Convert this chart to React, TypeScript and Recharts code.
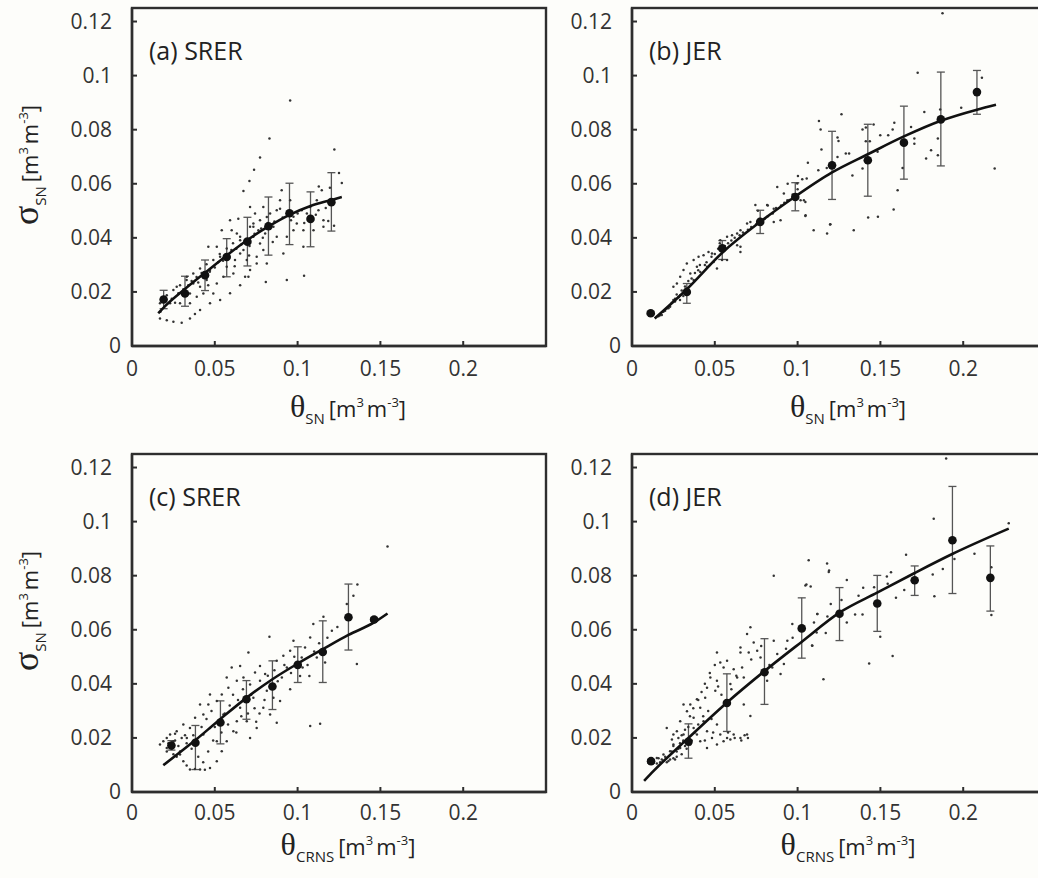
import React from 'react';
import { ScatterChart, Scatter, XAxis, YAxis, ErrorBar } from 'recharts';

// σ_SN vs θ (SN / CRNS) for SRER and JER — 2x2 MATLAB-style panels.

const FRAME = '#2e2e2e';
const INK = '#333';
const SANS = '"Open Sans", "Noto Sans", sans-serif';
const SERIF = '"Liberation Serif", "DejaVu Serif", serif';

const xTicks = [0, 0.05, 0.1, 0.15, 0.2];
const yTicks = [0, 0.02, 0.04, 0.06, 0.08, 0.1, 0.12];

// ---- (a) SRER, θ_SN ----
const aDots: [number, number][] = [
  [0.0592, 0.0465], [0.0602, 0.0428], [0.0633, 0.0416], [0.0653, 0.0391], [0.0542, 0.0428], [0.0512, 0.0367],
  [0.0461, 0.0367], [0.0532, 0.033], [0.0572, 0.0293], [0.0471, 0.0281], [0.0451, 0.0244], [0.0512, 0.0231],
  [0.0411, 0.0219], [0.037, 0.0231], [0.035, 0.0194], [0.0391, 0.0182], [0.0431, 0.0194], [0.0491, 0.0194],
  [0.0552, 0.0256], [0.0612, 0.0268], [0.0622, 0.0318], [0.0653, 0.0342], [0.0713, 0.0441], [0.0733, 0.0453],
  [0.0743, 0.049], [0.0713, 0.0514], [0.0763, 0.0428], [0.0773, 0.0379], [0.0793, 0.0355], [0.0753, 0.033],
  [0.0693, 0.0318], [0.0713, 0.0281], [0.0683, 0.0256], [0.0773, 0.0465], [0.0834, 0.049], [0.0854, 0.0441],
  [0.0804, 0.0416], [0.0874, 0.0502], [0.0894, 0.0539], [0.0904, 0.0576], [0.0955, 0.0539], [0.0975, 0.0478],
  [0.0995, 0.0453], [0.0975, 0.0428], [0.0935, 0.0404], [0.0874, 0.0404], [0.1025, 0.0502], [0.1035, 0.0428],
  [0.1056, 0.049], [0.1076, 0.0514], [0.1116, 0.0539], [0.1156, 0.0465], [0.1156, 0.0441], [0.1146, 0.0576],
  [0.1126, 0.0502], [0.1096, 0.0428], [0.1035, 0.0367], [0.0914, 0.0342], [0.0814, 0.0305], [0.0753, 0.0305],
  [0.0793, 0.0514], [0.0673, 0.0355], [0.0733, 0.0404], [0.0642, 0.0471],
  [0.083, 0.0767], [0.0773, 0.0697], [0.0737, 0.0652], [0.0709, 0.061], [0.0673, 0.0573], [0.1222, 0.0727],
  [0.125, 0.064], [0.1267, 0.0603], [0.1039, 0.026], [0.0935, 0.0244], [0.0808, 0.0237], [0.0955, 0.0908],
  [0.1185, 0.0462], [0.122, 0.0445], [0.1195, 0.0585], [0.1128, 0.059],
  [0.0169, 0.0158], [0.0172, 0.0127], [0.021, 0.0188], [0.027, 0.0219], [0.0331, 0.0256], [0.023, 0.0158],
  [0.029, 0.0158], [0.035, 0.0158],
  [0.0169, 0.0102], [0.021, 0.0095], [0.025, 0.009], [0.03, 0.0086], [0.035, 0.0102], [0.038, 0.0118],
  [0.0411, 0.0133], [0.0471, 0.0158], [0.0532, 0.017], [0.0592, 0.0195], [0.0653, 0.0225], [0.0703, 0.0256],
  [0.018, 0.0164], [0.025, 0.0207], [0.029, 0.0225], [0.033, 0.0244], [0.037, 0.0268], [0.0411, 0.0287],
  [0.045, 0.0302], [0.0491, 0.0318], [0.053, 0.034], [0.0572, 0.0361], [0.061, 0.038], [0.0653, 0.0404],
  [0.0733, 0.0441], [0.0814, 0.0477], [0.0894, 0.0508],
  [0.028, 0.0195], [0.031, 0.021], [0.034, 0.0225], [0.036, 0.024], [0.039, 0.0255], [0.042, 0.027],
  [0.044, 0.0255], [0.047, 0.0275], [0.05, 0.029], [0.052, 0.031], [0.055, 0.0315], [0.058, 0.034],
  [0.06, 0.0355], [0.063, 0.036], [0.066, 0.0375], [0.068, 0.039], [0.071, 0.037], [0.074, 0.0415],
  [0.078, 0.0435], [0.082, 0.0455], [0.086, 0.046], [0.091, 0.0475], [0.096, 0.0465], [0.1, 0.049],
  [0.104, 0.0455], [0.111, 0.0485], [0.117, 0.051], [0.024, 0.0175], [0.026, 0.016], [0.04, 0.0235],
  [0.046, 0.0225], [0.062, 0.0295], [0.0707, 0.0335], [0.085, 0.0385], [0.079, 0.04],
];
const aFitX = [0.0159, 0.0191, 0.032, 0.0441, 0.0572, 0.0697, 0.0824, 0.0951, 0.1078, 0.1204, 0.1267];
const aFitY = [0.0121, 0.0142, 0.0211, 0.0271, 0.0335, 0.0392, 0.0442, 0.0485, 0.0518, 0.054, 0.0551];
const aBinX = [0.0191, 0.032, 0.0441, 0.0572, 0.0697, 0.0824, 0.0951, 0.1078, 0.1204];
const aBinY = [0.0172, 0.0194, 0.0262, 0.0329, 0.0386, 0.0443, 0.0491, 0.047, 0.0532];
const aBinLo = [0.0138, 0.0147, 0.0205, 0.0256, 0.0296, 0.0336, 0.0375, 0.0367, 0.0425];
const aBinHi = [0.0206, 0.0258, 0.0318, 0.0397, 0.0476, 0.0551, 0.0602, 0.057, 0.0641];

// ---- (b) JER, θ_SN ----
const bDots: [number, number][] = [
  [0.0331, 0.0305], [0.0372, 0.0318], [0.0402, 0.033], [0.0432, 0.0336], [0.0462, 0.0348], [0.0483, 0.0342],
  [0.0392, 0.0293], [0.0352, 0.0268], [0.0291, 0.0256], [0.0311, 0.0281], [0.025, 0.0219], [0.0271, 0.0231],
  [0.0533, 0.0391], [0.0574, 0.0404], [0.0604, 0.041], [0.0635, 0.0416], [0.0655, 0.0428], [0.0695, 0.0453],
  [0.0715, 0.0459], [0.0745, 0.0521], [0.0816, 0.0521], [0.0856, 0.0508], [0.0877, 0.0588], [0.0917, 0.0564],
  [0.0938, 0.0539], [0.0998, 0.0601], [0.1038, 0.0539], [0.1048, 0.0484], [0.0897, 0.0465], [0.0856, 0.0459],
  [0.0655, 0.0367], [0.0655, 0.0348], [0.0635, 0.0373], [0.0513, 0.0287], [0.0544, 0.0318], [0.0574, 0.0318],
  [0.0493, 0.0311], [0.0453, 0.0293], [0.0412, 0.0274], [0.0372, 0.0244], [0.0331, 0.0207], [0.0291, 0.0188],
  [0.025, 0.017], [0.021, 0.0139], [0.019, 0.0127], [0.017, 0.0114],
  [0.016, 0.011], [0.018, 0.0115], [0.02, 0.013], [0.022, 0.014], [0.024, 0.016], [0.026, 0.0175],
  [0.028, 0.018], [0.03, 0.0205], [0.032, 0.022], [0.036, 0.025], [0.04, 0.028], [0.044, 0.03],
  [0.048, 0.033], [0.052, 0.036], [0.056, 0.037], [0.06, 0.039], [0.065, 0.041], [0.07, 0.043],
  [0.075, 0.045], [0.08, 0.047], [0.085, 0.049], [0.09, 0.052], [0.095, 0.054], [0.026, 0.0165],
  [0.027, 0.019], [0.029, 0.017], [0.023, 0.0145], [0.031, 0.0185],
  [0.034, 0.024], [0.038, 0.027], [0.041, 0.03], [0.045, 0.031], [0.047, 0.03], [0.05, 0.034],
  [0.053, 0.038], [0.058, 0.038], [0.062, 0.04], [0.067, 0.042], [0.072, 0.044], [0.077, 0.047],
  [0.082, 0.048], [0.087, 0.051], [0.092, 0.053], [0.097, 0.056], [0.1, 0.058], [0.094, 0.06],
  [0.082, 0.052], [0.076, 0.05],
  [0.1725, 0.1011], [0.2113, 0.0992], [0.1265, 0.0857], [0.1129, 0.0832], [0.1139, 0.0801], [0.1392, 0.0801],
  [0.1459, 0.0819], [0.1574, 0.0801], [0.1584, 0.0826], [0.1499, 0.0779], [0.1547, 0.0779], [0.1241, 0.0771],
  [0.1247, 0.0758], [0.1412, 0.0757], [0.1436, 0.0757], [0.1483, 0.0718], [0.1291, 0.0712], [0.1311, 0.0712],
  [0.1144, 0.0727], [0.1062, 0.0678], [0.1002, 0.0629], [0.1055, 0.0619], [0.1028, 0.0617], [0.1241, 0.0699],
  [0.1392, 0.0656], [0.1331, 0.0631], [0.1176, 0.0658], [0.1125, 0.065], [0.1685, 0.081], [0.1705, 0.0767],
  [0.1705, 0.0748], [0.1765, 0.0865], [0.1806, 0.0724], [0.1847, 0.0767], [0.1847, 0.0705], [0.1776, 0.0693],
  [0.1988, 0.0881], [0.219, 0.0656], [0.1604, 0.0576], [0.158, 0.0505], [0.1426, 0.0475], [0.1196, 0.0449],
  [0.1047, 0.0481], [0.1047, 0.0533], [0.1018, 0.0539], [0.1634, 0.0658], [0.1861, 0.0875], [0.1412, 0.0808],
  [0.1875, 0.1231], [0.1097, 0.0428], [0.1178, 0.0416], [0.1198, 0.045], [0.1339, 0.0428], [0.1485, 0.0478],
];
const bFitX = [0.0137, 0.0331, 0.0545, 0.0774, 0.0986, 0.1208, 0.143, 0.1642, 0.1865, 0.2083, 0.2198];
const bFitY = [0.0102, 0.021, 0.0345, 0.0459, 0.0553, 0.0642, 0.0711, 0.0775, 0.0833, 0.0874, 0.0892];
const bBinX = [0.0113, 0.0331, 0.0545, 0.0774, 0.0986, 0.1208, 0.1424, 0.1642, 0.1865, 0.2083];
const bBinY = [0.0121, 0.02, 0.0361, 0.0459, 0.0551, 0.0668, 0.0687, 0.0752, 0.0838, 0.0939];
const bBinLo = [0.0116, 0.0158, 0.032, 0.0416, 0.05, 0.0542, 0.0554, 0.0617, 0.0666, 0.0857];
const bBinHi = [0.0126, 0.0231, 0.039, 0.0502, 0.0604, 0.0794, 0.082, 0.0887, 0.1013, 0.1019];

// ---- (c) SRER, θ_CRNS ----
const cDots: [number, number][] = [
  [0.1543, 0.0908], [0.1361, 0.0767], [0.1337, 0.0726], [0.1297, 0.0695], [0.1358, 0.0473], [0.1156, 0.0648],
  [0.1207, 0.0596], [0.1095, 0.0621], [0.1076, 0.0571], [0.1045, 0.0534], [0.1116, 0.0497], [0.1166, 0.0479],
  [0.1025, 0.0497], [0.0975, 0.0559], [0.0955, 0.0522], [0.0914, 0.0504], [0.0935, 0.046], [0.0905, 0.0423],
  [0.1015, 0.0429], [0.1071, 0.0429], [0.083, 0.0574], [0.0874, 0.0485], [0.0804, 0.0436], [0.0773, 0.0411],
  [0.0814, 0.0374], [0.0854, 0.0349], [0.0894, 0.0337], [0.0793, 0.0312], [0.0834, 0.0287], [0.0874, 0.0256],
  [0.1076, 0.0244], [0.1136, 0.0252], [0.0753, 0.0237], [0.0713, 0.02], [0.0693, 0.0262], [0.0733, 0.0349],
  [0.0713, 0.0398], [0.0673, 0.0423], [0.0633, 0.0411], [0.0703, 0.0516], [0.0653, 0.0466], [0.0602, 0.046],
  [0.0572, 0.0423], [0.0582, 0.0386], [0.0542, 0.0361], [0.0512, 0.0337], [0.0471, 0.0361], [0.0461, 0.0324],
  [0.0411, 0.0324], [0.0431, 0.0287], [0.0381, 0.0275], [0.035, 0.0237], [0.031, 0.025], [0.027, 0.0225],
  [0.023, 0.0213], [0.0189, 0.0188], [0.021, 0.0163], [0.029, 0.0139], [0.031, 0.0114], [0.035, 0.0083],
  [0.0411, 0.0083], [0.0471, 0.0089], [0.0512, 0.0114], [0.0542, 0.0151], [0.0572, 0.0188], [0.0612, 0.0225],
  [0.0633, 0.0262], [0.0653, 0.0312], [0.0431, 0.0213], [0.0471, 0.0237], [0.0512, 0.0188], [0.0391, 0.0188],
  [0.025, 0.0188], [0.021, 0.02], [0.0169, 0.0176], [0.0331, 0.02], [0.0552, 0.0287], [0.0773, 0.0466],
  [0.0743, 0.0442], [0.0955, 0.038], [0.0995, 0.046], [0.038, 0.0085], [0.044, 0.0082], [0.033, 0.0098],
  [0.022, 0.018], [0.024, 0.016], [0.026, 0.019], [0.028, 0.017], [0.03, 0.02], [0.025, 0.014],
  [0.027, 0.013], [0.032, 0.021], [0.029, 0.015], [0.023, 0.017], [0.021, 0.015], [0.026, 0.0215],
  [0.045, 0.027], [0.048, 0.03], [0.05, 0.024], [0.056, 0.029], [0.059, 0.032], [0.061, 0.036],
  [0.064, 0.034], [0.067, 0.038], [0.072, 0.036], [0.074, 0.031], [0.077, 0.029], [0.08, 0.034],
  [0.082, 0.043], [0.086, 0.045], [0.088, 0.041], [0.092, 0.047], [0.096, 0.044], [0.098, 0.05],
  [0.103, 0.046], [0.106, 0.047], [0.11, 0.052], [0.113, 0.055], [0.118, 0.057], [0.124, 0.061],
  [0.04, 0.013], [0.043, 0.011], [0.046, 0.015], [0.049, 0.019], [0.036, 0.016], [0.033, 0.018],
  [0.037, 0.021], [0.042, 0.024], [0.054, 0.022], [0.058, 0.025], [0.066, 0.028], [0.07, 0.029],
  [0.075, 0.026], [0.063, 0.022],
];
const cFitX = [0.0189, 0.0381, 0.0536, 0.0693, 0.0848, 0.1001, 0.1152, 0.1307, 0.1462, 0.1543];
const cFitY = [0.0099, 0.0191, 0.0271, 0.0349, 0.0417, 0.0475, 0.0528, 0.0581, 0.0627, 0.066];
const cBinX = [0.0238, 0.0383, 0.0534, 0.0691, 0.0848, 0.1001, 0.1152, 0.1307, 0.1462];
const cBinY = [0.0172, 0.0182, 0.0257, 0.0343, 0.039, 0.047, 0.0518, 0.0646, 0.0638];
const cBinLo = [0.0155, 0.0083, 0.0178, 0.0269, 0.0305, 0.0405, 0.0405, 0.0525, 0.0632];
const cBinHi = [0.019, 0.0246, 0.0337, 0.0412, 0.0485, 0.0537, 0.0633, 0.0769, 0.0644];

// ---- (d) JER, θ_CRNS ----
const dDots: [number, number][] = [
  [0.0856, 0.08], [0.1053, 0.0767], [0.1079, 0.076], [0.1119, 0.0658], [0.1099, 0.0627], [0.0968, 0.0621],
  [0.0938, 0.0559], [0.0856, 0.0559], [0.0695, 0.0584], [0.0735, 0.0553], [0.0655, 0.0516], [0.0705, 0.0516],
  [0.0513, 0.0516], [0.0533, 0.0479], [0.0553, 0.046], [0.0614, 0.0454], [0.0665, 0.046], [0.0675, 0.0423],
  [0.0635, 0.0423], [0.0594, 0.0399], [0.0513, 0.0411], [0.0473, 0.0423], [0.0453, 0.0386], [0.0503, 0.0374],
  [0.0442, 0.0349], [0.0392, 0.0343], [0.0352, 0.0324], [0.0311, 0.0324], [0.0332, 0.0299], [0.0412, 0.0312],
  [0.0372, 0.0275], [0.0432, 0.0262], [0.0291, 0.0262], [0.0271, 0.0225], [0.025, 0.0213], [0.0311, 0.0213],
  [0.0372, 0.0237], [0.0453, 0.0225], [0.0483, 0.02], [0.0533, 0.0213], [0.0574, 0.02], [0.0614, 0.0213],
  [0.0655, 0.02], [0.0695, 0.0213], [0.0513, 0.025], [0.0715, 0.0281], [0.0675, 0.0324], [0.0412, 0.0188],
  [0.0352, 0.0176], [0.0291, 0.0163], [0.023, 0.0151], [0.019, 0.0139], [0.015, 0.0126], [0.025, 0.0176],
  [0.0311, 0.0188], [0.0392, 0.0213], [0.0453, 0.0163], [0.0513, 0.0176], [0.0553, 0.0188], [0.0594, 0.0194],
  [0.0241, 0.0194], [0.021, 0.0237], [0.0756, 0.0522], [0.0776, 0.0497], [0.0877, 0.051], [0.0917, 0.0473],
  [0.0897, 0.0436], [0.0816, 0.0411], [0.0847, 0.046], [0.0715, 0.0609], [0.0655, 0.0534], [0.0574, 0.0485],
  [0.013, 0.011], [0.015, 0.0105], [0.017, 0.011], [0.019, 0.0115], [0.021, 0.011], [0.023, 0.012],
  [0.025, 0.0125], [0.027, 0.013], [0.02, 0.013], [0.024, 0.015], [0.028, 0.016], [0.03, 0.014],
  [0.032, 0.017], [0.026, 0.012], [0.022, 0.0115], [0.018, 0.012], [0.016, 0.0125], [0.029, 0.018],
  [0.031, 0.019], [0.033, 0.016],
  [0.035, 0.028], [0.037, 0.031], [0.04, 0.034], [0.042, 0.037], [0.044, 0.04], [0.047, 0.044],
  [0.05, 0.047], [0.052, 0.039], [0.054, 0.036], [0.038, 0.022], [0.04, 0.025], [0.043, 0.028],
  [0.046, 0.03], [0.048, 0.027], [0.034, 0.024], [0.036, 0.019], [0.044, 0.019], [0.049, 0.022],
  [0.058, 0.022], [0.062, 0.02], [0.066, 0.019], [0.068, 0.021], [0.07, 0.02], [0.06, 0.038],
  [0.063, 0.043], [0.072, 0.049], [0.078, 0.054], [0.083, 0.047], [0.093, 0.053], [0.097, 0.057],
  [0.027, 0.015], [0.025, 0.017], [0.03, 0.021], [0.032, 0.023], [0.028, 0.02],
  [0.1897, 0.1233], [0.1822, 0.1011], [0.2275, 0.0994], [0.1655, 0.0877], [0.2068, 0.0881], [0.1947, 0.0862],
  [0.1877, 0.0825], [0.1816, 0.0804], [0.1826, 0.0724], [0.1564, 0.0813], [0.1539, 0.0797], [0.1544, 0.077],
  [0.1644, 0.0747], [0.1594, 0.0718], [0.1462, 0.0757], [0.1396, 0.0755], [0.1368, 0.0726], [0.1297, 0.0784],
  [0.119, 0.0819], [0.1265, 0.071], [0.12, 0.0695], [0.1119, 0.0658], [0.118, 0.0649], [0.1297, 0.0627],
  [0.1347, 0.0656], [0.1392, 0.0656], [0.117, 0.0588], [0.1115, 0.059], [0.1499, 0.0574], [0.217, 0.0655],
  [0.1574, 0.0503], [0.1432, 0.0475], [0.1156, 0.0417], [0.1089, 0.0541], [0.217, 0.0831],
  [0.1178, 0.0845], [0.1067, 0.0857], [0.1188, 0.0814], [0.1047, 0.0764], [0.1087, 0.0542],
];
const dFitX = [0.0073, 0.0129, 0.0341, 0.0574, 0.08, 0.1024, 0.1255, 0.1483, 0.1707, 0.1937, 0.2275];
const dFitY = [0.0041, 0.0077, 0.02, 0.0331, 0.0447, 0.0555, 0.0664, 0.0738, 0.081, 0.0881, 0.0974];
const dBinX = [0.0115, 0.0341, 0.0573, 0.08, 0.1025, 0.1253, 0.1481, 0.1707, 0.1935, 0.2164];
const dBinY = [0.0114, 0.0186, 0.0329, 0.0443, 0.0605, 0.0659, 0.0697, 0.0783, 0.0931, 0.0792];
const dBinLo = [0.0108, 0.0125, 0.0224, 0.0324, 0.0495, 0.056, 0.0594, 0.0727, 0.0734, 0.0669];
const dBinHi = [0.012, 0.0252, 0.0437, 0.0567, 0.0718, 0.0756, 0.0801, 0.0836, 0.113, 0.091];

// plot area is 414 x 338 in every panel
const PW = 414;
const PH = 338;
const CW = 560;
const CH = 440;
const M = { top: 8, right: 14, bottom: 64, left: 72 };

const fmt = (v: number) => (v === 0 ? '0' : String(+v.toFixed(2)));

const axisStroke = { stroke: FRAME, strokeWidth: 2.4 };
const tickStroke = { stroke: FRAME, strokeWidth: 2 };

function XTick(props: any) {
  const { x, y, payload, off } = props;
  return (
    <text x={x} y={y + off} textAnchor="middle" fontSize={21} fontFamily={SANS} fill={INK}>
      {fmt(payload.value)}
    </text>
  );
}

function YTick(props: any) {
  const { x, y, payload } = props;
  const gap = payload.value === 0 ? 11 : 20;
  return (
    <text x={x - gap} y={y + 7} textAnchor="end" fontSize={21} fontFamily={SANS} fill={INK}>
      {fmt(payload.value)}
    </text>
  );
}

type PanelDef = {
  left: number;
  top: number;
  label: string;
  xSub: string;
  yTitle: boolean;
  tickOff: number;
  titleOff: number;
  dots: [number, number][];
  fitX: number[];
  fitY: number[];
  binX: number[];
  binY: number[];
  binLo: number[];
  binHi: number[];
};

const PANELS: PanelDef[] = [
  { left: 0, top: 0, label: '(a) SRER', xSub: 'SN', yTitle: true, tickOff: 30, titleOff: 71,
    dots: aDots, fitX: aFitX, fitY: aFitY, binX: aBinX, binY: aBinY, binLo: aBinLo, binHi: aBinHi },
  { left: 500, top: 0, label: '(b) JER', xSub: 'SN', yTitle: false, tickOff: 30, titleOff: 71,
    dots: bDots, fitX: bFitX, fitY: bFitY, binX: bBinX, binY: bBinY, binLo: bBinLo, binHi: bBinHi },
  { left: 0, top: 446, label: '(c) SRER', xSub: 'CRNS', yTitle: true, tickOff: 28, titleOff: 63,
    dots: cDots, fitX: cFitX, fitY: cFitY, binX: cBinX, binY: cBinY, binLo: cBinLo, binHi: cBinHi },
  { left: 500, top: 446, label: '(d) JER', xSub: 'CRNS', yTitle: false, tickOff: 28, titleOff: 63,
    dots: dDots, fitX: dFitX, fitY: dFitY, binX: dBinX, binY: dBinY, binLo: dBinLo, binHi: dBinHi },
];

function Panel({ p }: { p: PanelDef }) {
  const dots = p.dots.map(([x, y]) => ({ x, y }));
  const fit = p.fitX.map((x, i) => ({ x, y: p.fitY[i] }));
  const bins = p.binX.map((x, i) => ({
    x,
    y: p.binY[i],
    err: [p.binY[i] - p.binLo[i], p.binHi[i] - p.binY[i]],
  }));

  // inward ticks: negative tickSize, labels pulled back with tickMargin.
  // top/right axes only carry ticks; an invisible copy of the fit keeps them alive.
  return (
    <div style={{ position: 'absolute', left: p.left, top: p.top }}>
      <ScatterChart width={CW} height={CH} margin={M}>
        <XAxis
          type="number"
          dataKey="x"
          domain={[0, 0.25]}
          ticks={xTicks}
          interval={0}
          height={30}
          tickSize={-5}
          tickMargin={5}
          tickLine={tickStroke}
          axisLine={axisStroke}
          allowDataOverflow
          tick={(t: any) => <XTick {...t} off={p.tickOff} />}
        />
        <XAxis
          xAxisId="top"
          orientation="top"
          type="number"
          dataKey="x"
          domain={[0, 0.25]}
          ticks={xTicks}
          interval={0}
          height={0}
          tickSize={-5}
          tickLine={tickStroke}
          axisLine={axisStroke}
          allowDataOverflow
          tick={() => <g />}
        />
        <YAxis
          type="number"
          dataKey="y"
          domain={[0, 0.125]}
          ticks={yTicks}
          interval={0}
          width={60}
          tickSize={-5}
          tickMargin={5}
          tickLine={tickStroke}
          axisLine={axisStroke}
          allowDataOverflow
          tick={(t: any) => <YTick {...t} />}
        />
        <YAxis
          yAxisId="right"
          orientation="right"
          type="number"
          dataKey="y"
          domain={[0, 0.125]}
          ticks={yTicks}
          interval={0}
          width={0}
          tickSize={-5}
          tickLine={tickStroke}
          axisLine={axisStroke}
          allowDataOverflow
          tick={() => <g />}
        />
        <Scatter
          data={dots}
          isAnimationActive={false}
          shape={(s: any) => <circle cx={s.cx} cy={s.cy} r={1.25} fill="#333" />}
        />
        <Scatter
          data={fit}
          isAnimationActive={false}
          line={{ stroke: '#111', strokeWidth: 2.6 }}
          lineJointType="monotoneX"
          shape={() => <g />}
        />
        <Scatter
          data={bins}
          isAnimationActive={false}
          shape={(s: any) => <circle cx={s.cx} cy={s.cy} r={4.3} fill="#111" />}
        >
          <ErrorBar dataKey="err" direction="y" width={4} stroke="#555" strokeWidth={1.3} isAnimationActive={false} />
        </Scatter>
        <Scatter
          xAxisId="top"
          yAxisId="right"
          data={fit}
          isAnimationActive={false}
          shape={() => <g />}
        />
      </ScatterChart>
    </div>
  );
}

// Box frames, panel tags and axis titles on top of the charts.
function Overlay() {
  return (
    <svg
      width={1038}
      height={878}
      style={{ position: 'absolute', left: 0, top: 0, pointerEvents: 'none' }}
    >
      {PANELS.map((p, i) => {
        const pl = p.left + M.left + 60;
        const pt = p.top + M.top;
        const cx = pl + PW / 2 + 9;
        const by = pt + PH + p.titleOff;
        const ycx = 38;
        const ycy = pt + PH / 2 - 12;
        return (
          <g key={i}>
            <rect x={pl} y={pt} width={PW} height={PH} fill="none" stroke={FRAME} strokeWidth={2.4} />
            <text x={pl + 17} y={pt + 52} fontSize={25} fontFamily={SANS} fill="#222">
              {p.label}
            </text>
            <text x={cx} y={by} textAnchor="middle" fontFamily={SANS} fill="#222">
              <tspan fontFamily={SERIF} fontSize={32}>θ</tspan>
              <tspan fontSize={15} dy={7}>{p.xSub}</tspan>
              <tspan fontSize={22} dy={-7} dx={4}>[m</tspan>
              <tspan fontSize={13} dy={-10}>3</tspan>
              <tspan fontSize={22} dy={10} dx={3}>m</tspan>
              <tspan fontSize={13} dy={-10}>-3</tspan>
              <tspan fontSize={22} dy={10}>]</tspan>
            </text>
            {p.yTitle && (
              <text
                x={ycx}
                y={ycy}
                textAnchor="middle"
                fontFamily={SANS}
                fill="#222"
                transform={`rotate(-90 ${ycx} ${ycy})`}
              >
                <tspan fontFamily={SERIF} fontSize={36}>σ</tspan>
                <tspan fontSize={15} dy={8}>SN</tspan>
                <tspan fontSize={22} dy={-8} dx={4}>[m</tspan>
                <tspan fontSize={13} dy={-10}>3</tspan>
                <tspan fontSize={22} dy={10} dx={3}>m</tspan>
                <tspan fontSize={13} dy={-10}>-3</tspan>
                <tspan fontSize={22} dy={10}>]</tspan>
              </text>
            )}
          </g>
        );
      })}
    </svg>
  );
}

export default function App() {
  return (
    <div
      style={{
        position: 'absolute',
        left: 0,
        top: 0,
        width: 1038,
        height: 878,
        overflow: 'hidden',
        background: '#fdfdfa',
      }}
    >
      {PANELS.map((p, i) => (
        <Panel key={i} p={p} />
      ))}
      <Overlay />
    </div>
  );
}
